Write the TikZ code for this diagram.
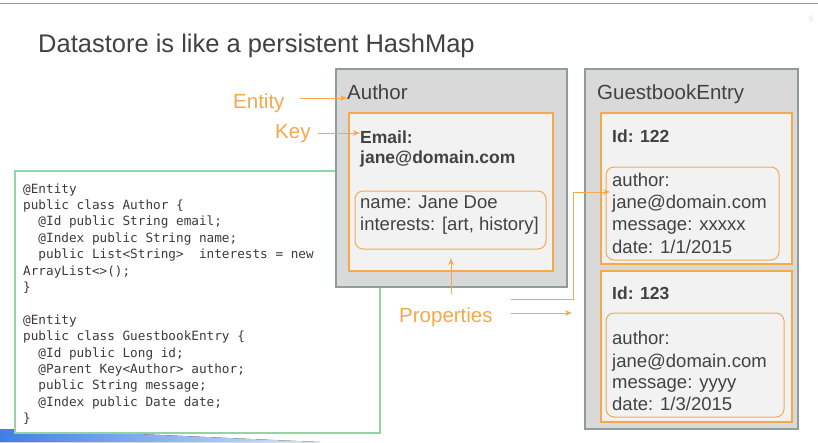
\documentclass[tikz,border=0pt]{standalone}
\usepackage{fontspec}
\setmainfont{Liberation Sans}
\setmonofont{DejaVu Sans Mono}
\usetikzlibrary{arrows.meta}
\definecolor{orng}{HTML}{F5A94A}
\definecolor{boxgrey}{HTML}{D9D9D9}
\definecolor{boxedge}{HTML}{8E9C9C}
\definecolor{innerfill}{HTML}{F2F2F2}
\definecolor{txt}{HTML}{424242}
\definecolor{codegreen}{HTML}{93D4A4}
\definecolor{swoosh}{HTML}{3F7FE6}
\tikzset{
  entitybox/.style={draw=boxedge, fill=boxgrey, line width=1.2pt},
  keybox/.style={draw=orng, fill=innerfill, line width=1.3pt},
  propbox/.style={draw=orng, line width=1pt, rounded corners=8pt},
  lbl/.style={anchor=base west, inner sep=0pt, text=orng, font=\fontsize{20.5}{24}\selectfont},
  ename/.style={anchor=base west, inner sep=0pt, text=txt, font=\fontsize{20.5}{24}\selectfont},
  keytxt/.style={anchor=base west, inner sep=0pt, text=txt, font=\fontsize{17.5}{22}\selectfont\bfseries},
  proptxt/.style={anchor=base west, inner sep=0pt, text=txt, font=\fontsize{18.5}{22}\selectfont},
  codetxt/.style={anchor=base west, inner sep=0pt, text=txt!90!black, font=\fontsize{12.7}{16.4}\selectfont\ttfamily},
  arr/.style={draw=orng, line width=1pt, -{Stealth[length=7pt,width=5.5pt]}},
}
\begin{document}
\begin{tikzpicture}[x=1pt,y=-1pt]
\useasboundingbox (0,0) rectangle (818,442);
\fill[white] (0,0) rectangle (818,442);
% top rule and page number
\draw[gray!80, line width=1pt] (0,3) -- (818,3);
\node[anchor=base, text=gray!25, font=\fontsize{8}{9}\selectfont, inner sep=0pt] (pg) at (811,21) {6};
% title
\node[anchor=base west, inner sep=0pt, text=txt, font=\fontsize{25.5}{30}\selectfont] (title) at (38,52) {Datastore is like a persistent HashMap};

% swoosh
\fill[left color=swoosh, right color=swoosh!20, draw=none]
  (0,429) .. controls (60,430) and (200,437) .. (320,442) -- (0,442) -- cycle;

% code box
\draw[draw=codegreen, line width=1.2pt, fill=white] (15,171) rectangle (380,433);
\node[codetxt] (code) at (23,193) {%
\renewcommand{\arraystretch}{1}%
\begin{tabular}[t]{@{}l@{}}
@Entity\\
public class Author \{\\
\ \ @Id public String email;\\
\ \ @Index public String name;\\
\ \ public List<String>\ \ interests = new\\
ArrayList<>();\\
\}\\
\mbox{}\\
@Entity\\
public class GuestbookEntry \{\\
\ \ @Id public Long id;\\
\ \ @Parent Key<Author> author;\\
\ \ public String message;\\
\ \ @Index public Date date;\\
\}
\end{tabular}};

% Author entity
\draw[entitybox] (336,69) rectangle (567,287);
\node[ename] (author) at (347,99) {Author};
\draw[keybox] (349,113) rectangle (553,271);
\node[keytxt] (email) at (360,143) {Email:};
\node[keytxt] (emailv) at (360,163) {jane@domain.com};
\draw[propbox] (355,191) rectangle (546,249);
\coordinate (aprops) at (451,258);
\node[proptxt] (pname) at (360,208) {name: Jane Doe};
\node[proptxt] (pint) at (360,230) {interests: [art, history]};

% GuestbookEntry entity
\draw[entitybox] (585,69) rectangle (798,429);
\node[ename] (gb) at (597,99) {GuestbookEntry};
\draw[keybox] (601,113) rectangle (792,264);
\node[keytxt] (id1) at (612,142) {Id: 122};
\draw[propbox] (606,167) rectangle (779,260);
\node[proptxt] (a1) at (612,186) {author:};
\node[proptxt] (j1) at (612,208) {jane@domain.com};
\node[proptxt] (m1) at (612,230) {message: xxxxx};
\node[proptxt] (d1) at (612,253) {date: 1/1/2015};
\draw[keybox] (601,271) rectangle (792,422);
\node[keytxt] (id2) at (612,299) {Id: 123};
\draw[propbox] (606,313) rectangle (784,417);
\node[proptxt] (a2) at (612,344) {author:};
\node[proptxt] (j2) at (612,367) {jane@domain.com};
\node[proptxt] (m2) at (612,388) {message: yyyy};
\node[proptxt] (d2) at (612,410) {date: 1/3/2015};

% labels and arrows
\node[lbl] (entity) at (233,108) {Entity};
\node[lbl] (key) at (275,138) {Key};
\node[lbl] (props) at (399,322) {Properties};
\draw[arr] (entity.east |- 0,98) ++(15,0) -- (author.west |- 0,98);
\draw[arr] (key.east |- 0,133) ++(7,0) -- (email.west |- 0,133);
\draw[arr] (props.north -| aprops) ++(0,-13) -- (aprops);
\coordinate (elbowstart) at (511,299);
\coordinate (elbowtip) at (610,192);
\draw[arr] (elbowstart) -- (573,299) -- (573,192) -- (elbowtip);
\coordinate (rstart) at (511,313);
\coordinate (rtip) at (572,313);
\draw[arr] (rstart) -- (rtip);
\end{tikzpicture}
\end{document}
